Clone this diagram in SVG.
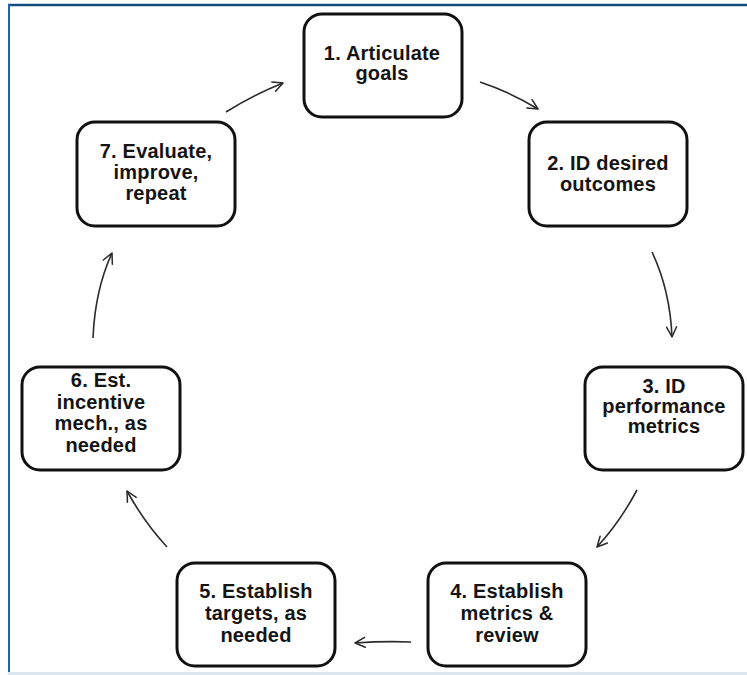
<svg xmlns="http://www.w3.org/2000/svg" width="747" height="675" viewBox="0 0 747 675">
  <style>
    .box { fill: #ffffff; stroke: #111111; stroke-width: 3; }
    .lbl { font-family: "Liberation Sans", Arial, sans-serif; font-weight: bold; font-size: 20px; fill: #141414; text-anchor: middle; letter-spacing: 0.2px; }
    .conn { fill: none; stroke: #2a2a2a; stroke-width: 1.6; marker-end: url(#arr); }
  </style>
  <defs>
    <marker id="arr" viewBox="0 0 12 12" refX="11" refY="6" markerWidth="12" markerHeight="12" markerUnits="userSpaceOnUse" orient="auto">
      <path d="M1,1 L11,6 L1,11" fill="none" stroke="#2a2a2a" stroke-width="1.5" stroke-linecap="round" stroke-linejoin="round"/>
    </marker>
  </defs>
  <rect x="0" y="0" width="747" height="675" fill="#ffffff"/>
  <g id="frame">
    <line x1="8" y1="5" x2="747" y2="5" stroke="#0f4c7f" stroke-width="2.5"/>
    <line x1="9" y1="4" x2="9" y2="672" stroke="#2466a0" stroke-width="2"/>
    <line x1="8" y1="673.5" x2="747" y2="673.5" stroke="#dce6ef" stroke-width="3"/>
  </g>
  <g id="connectors">
    <path class="conn" d="M480,82 Q510,92 538,109"/>
    <path class="conn" d="M652,252 Q670,290 672,337"/>
    <path class="conn" d="M637,490 Q620,522 597,547"/>
    <path class="conn" d="M411,642 Q383,641 355,643"/>
    <path class="conn" d="M167,547 Q144,522 127,491"/>
    <path class="conn" d="M93,338 Q95,290 112,253"/>
    <path class="conn" d="M226,112 Q253,95 283,83"/>
  </g>
  <g id="node1">
    <rect class="box" x="304" y="14" width="158" height="103" rx="18"/>
    <text class="lbl" x="382" y="60">1. Articulate</text>
    <text class="lbl" x="382" y="80">goals</text>
  </g>
  <g id="node2">
    <rect class="box" x="529" y="122" width="158" height="104" rx="18"/>
    <text class="lbl" x="608" y="170">2. ID desired</text>
    <text class="lbl" x="608" y="190.5">outcomes</text>
  </g>
  <g id="node3">
    <rect class="box" x="585" y="367" width="158" height="103" rx="18"/>
    <text class="lbl" x="664" y="393">3. ID</text>
    <text class="lbl" x="664" y="413">performance</text>
    <text class="lbl" x="664" y="433">metrics</text>
  </g>
  <g id="node4">
    <rect class="box" x="428" y="563" width="158" height="103" rx="18"/>
    <text class="lbl" x="507" y="598">4. Establish</text>
    <text class="lbl" x="507" y="620">metrics &amp;</text>
    <text class="lbl" x="507" y="641.5">review</text>
  </g>
  <g id="node5">
    <rect class="box" x="177" y="563" width="158" height="103" rx="18"/>
    <text class="lbl" x="256" y="598">5. Establish</text>
    <text class="lbl" x="256" y="620">targets, as</text>
    <text class="lbl" x="256" y="641.5">needed</text>
  </g>
  <g id="node6">
    <rect class="box" x="22" y="367" width="158" height="103" rx="18"/>
    <text class="lbl" x="101" y="387">6. Est.</text>
    <text class="lbl" x="101" y="408.5">incentive</text>
    <text class="lbl" x="101" y="430">mech., as</text>
    <text class="lbl" x="101" y="451.5">needed</text>
  </g>
  <g id="node7">
    <rect class="box" x="77" y="122" width="158" height="104" rx="18"/>
    <text class="lbl" x="156" y="158">7. Evaluate,</text>
    <text class="lbl" x="156" y="178.5">improve,</text>
    <text class="lbl" x="156" y="199.5">repeat</text>
  </g>
</svg>
